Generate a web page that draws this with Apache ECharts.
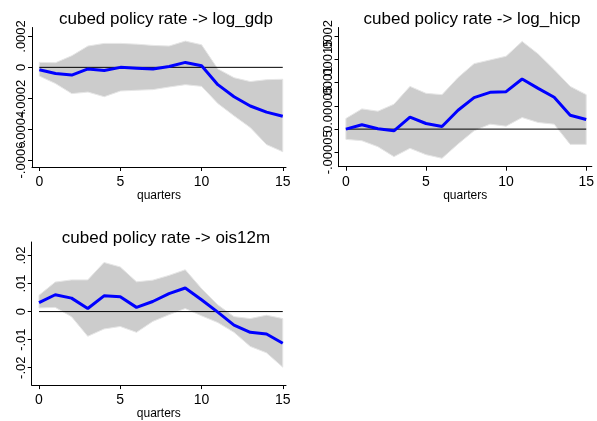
<!DOCTYPE html>
<html>
<head>
<meta charset="utf-8">
<script src="https://cdn.jsdelivr.net/npm/echarts@6/dist/echarts.min.js"></script>
<style>
html,body{margin:0;padding:0;background:#fff;}
#c{width:597px;height:421px;}
</style>
</head>
<body>
<div id="c"></div>
<script>
// ---- data ----
var quarters = [0,1,2,3,4,5,6,7,8,9,10,11,12,13,14,15];
var xTicks = [0,5,10,15];

var titleGdp = "cubed policy rate -> log_gdp";
var gdpIrf   = [-0.000015,-0.00004,-0.00005,-0.00001,-0.00002,0,-0.000005,-0.00001,0.000006,0.000032,0.00001,-0.000112,-0.00019,-0.00025,-0.00029,-0.000316];
var gdpUpper = [0.000032,0.00003,0.000075,0.000138,0.000155,0.000155,0.00015,0.000142,0.000138,0.00017,0.000146,-0.00001,-0.000067,-0.000092,-0.00008,-0.000077];
var gdpLower = [-0.000056,-0.000105,-0.00017,-0.00016,-0.00019,-0.000153,-0.000148,-0.000144,-0.000127,-0.000112,-0.000123,-0.000234,-0.000314,-0.00039,-0.0005,-0.000546];
var gdpTicks = [-0.0006,-0.0004,-0.0002,0,0.0002];

var titleHicp = "cubed policy rate -> log_hicp";
var hicpIrf   = [0,0.0000093,0.0000007,-0.0000036,0.0000257,0.0000121,0.0000057,0.0000407,0.0000679,0.0000793,0.0000807,0.000108,0.0000879,0.0000686,0.00003,0.0000207];
var hicpUpper = [0.0000229,0.0000436,0.0000386,0.0000536,0.0000921,0.0000771,0.0000743,0.000111,0.000141,0.000149,0.000157,0.000189,0.000162,0.000128,0.0000921,0.0000743];
var hicpLower = [-0.0000221,-0.000025,-0.0000379,-0.0000593,-0.0000414,-0.000055,-0.0000629,-0.0000321,-0.0000036,0.0000107,0.0000064,0.000025,0.0000143,0.0000107,-0.0000329,-0.0000329];
var hicpTicks = [-0.00005,0,0.00005,0.0001,0.00015,0.0002];

var titleOis = "cubed policy rate -> ois12m";
var oisIrf   = [0.0032,0.006,0.0048,0.0011,0.0056,0.0053,0.0015,0.0036,0.0064,0.0084,0.0042,-0.0002,-0.0048,-0.0074,-0.008,-0.0113];
var oisUpper = [0.0058,0.0105,0.0113,0.0113,0.0175,0.0159,0.0106,0.0112,0.0129,0.0149,0.0082,0.0024,-0.0018,-0.0025,-0.0013,-0.0025];
var oisLower = [0.0013,0.0015,-0.0018,-0.0088,-0.0062,-0.0053,-0.0074,-0.0035,-0.0011,0.0011,-0.0015,-0.0039,-0.0074,-0.0124,-0.0147,-0.0198];
var oisTicks = [-0.02,-0.01,0,0.01,0.02];

var xLabel = "quarters";

// ---- chart ----
var FONT = 'Arial, "Liberation Sans", sans-serif';
function fmt(v){
  var s = String(+(+v).toPrecision(6));
  return s.replace(/^(-?)0\./, '$1.');
}
var panels = [
  {title:titleGdp, irf:gdpIrf, up:gdpUpper, lo:gdpLower, ticks:gdpTicks,
   grid:{left:32, top:27.5, width:254, height:139.5}, xmin:-0.45, xmax:15.2, ymin:-0.000645, ymax:0.000258, cx:161, ty:6},
  {title:titleHicp, irf:hicpIrf, up:hicpUpper, lo:hicpLower, ticks:hicpTicks,
   grid:{left:338.5, top:27.5, width:256.5, height:139.2}, xmin:-0.46, xmax:15.35, ymin:-0.000081, ymax:0.000219, cx:467, ty:6},
  {title:titleOis, irf:oisIrf, up:oisUpper, lo:oisLower, ticks:oisTicks,
   grid:{left:31.7, top:242, width:254.3, height:144.5}, xmin:-0.45, xmax:15.2, ymin:-0.0262, ymax:0.0248, cx:161, ty:225}
];

function bandRenderer(p){
  return function(params, api){
    if (params.dataIndex !== 0) return null;
    var pts = [];
    for (var k = 0; k < quarters.length; k++) pts.push(api.coord([quarters[k], p.up[k]]));
    for (var k2 = quarters.length - 1; k2 >= 0; k2--) pts.push(api.coord([quarters[k2], p.lo[k2]]));
    return {type:'polygon', shape:{points:pts},
      style:{fill:'#cccccc', stroke:'#e6e6e6', lineWidth:1}};
  };
}

function yAxisDef(p, gi, vals, showLine){
  return {type:'value', gridIndex:gi, min:p.ymin, max:p.ymax, position:'left', offset:0,
    axisLine:{show:showLine, onZero:false, lineStyle:{color:'#000', width:1}},
    axisTick:{show:true, length:4, customValues:vals, lineStyle:{color:'#000'}},
    axisLabel:{customValues:vals, rotate:90, margin:4, fontFamily:FONT, fontSize:13, color:'#000', formatter:fmt, hideOverlap:false},
    splitLine:{show:false}};
}

var option = {animation:false, backgroundColor:'#fff', title:[], grid:[], xAxis:[], yAxis:[], series:[]};
panels.forEach(function(p, i){
  option.title.push({text:p.title, left:p.cx, top:p.ty, textAlign:'center',
    textStyle:{fontFamily:FONT, fontSize:17, fontWeight:'normal', color:'#000'}});
  option.grid.push(Object.assign({containLabel:false}, p.grid));
  option.xAxis.push({type:'value', gridIndex:i, min:p.xmin, max:p.xmax,
    name:xLabel, nameLocation:'middle', nameGap:20,
    nameTextStyle:{fontFamily:FONT, fontSize:12, color:'#000'},
    axisLine:{show:true, onZero:false, lineStyle:{color:'#000', width:1}},
    axisTick:{show:true, length:4, customValues:xTicks, lineStyle:{color:'#000'}},
    axisLabel:{customValues:xTicks, margin:8, fontFamily:FONT, fontSize:14, color:'#000', formatter:fmt},
    splitLine:{show:false}});
  // split tick labels over two co-located axes so none get dropped as overlapping
  var evenVals = p.ticks.filter(function(v,k){return k % 2 === 0;});
  var oddVals  = p.ticks.filter(function(v,k){return k % 2 === 1;});
  var yMain = option.yAxis.length;
  option.yAxis.push(yAxisDef(p, i, evenVals, true));
  option.yAxis.push(yAxisDef(p, i, oddVals, false));
  option.series.push({type:'custom', xAxisIndex:i, yAxisIndex:yMain, renderItem:bandRenderer(p),
    data:quarters.map(function(q,k){return [q, p.lo[k], p.up[k]];}),
    encode:{x:0, y:[1,2]}, silent:true, clip:true, z:1});
  option.series.push({type:'line', xAxisIndex:i, yAxisIndex:yMain, data:[[quarters[0],0],[quarters[quarters.length-1],0]],
    symbol:'none', lineStyle:{color:'#000', width:1}, silent:true, z:2});
  option.series.push({type:'line', xAxisIndex:i, yAxisIndex:yMain, data:quarters.map(function(q,k){return [q,p.irf[k]];}),
    symbol:'none', lineStyle:{color:'#0000ff', width:3}, silent:true, z:3});
});

var chart = echarts.init(document.getElementById('c'), null, {renderer:'canvas'});
chart.setOption(option);
</script>
</body>
</html>
